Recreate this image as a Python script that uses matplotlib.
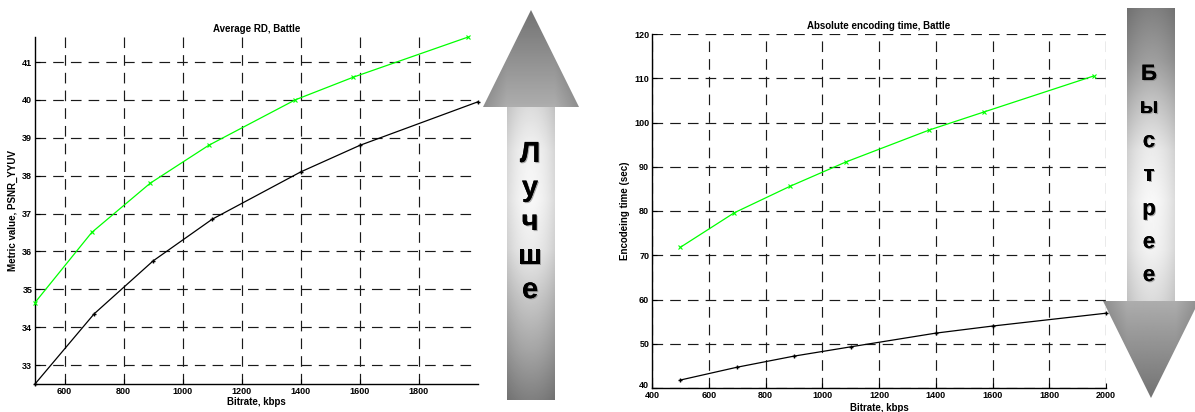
import numpy as np
import matplotlib
matplotlib.use('Agg')
import matplotlib.pyplot as plt
from matplotlib.patches import Polygon
import matplotlib.patheffects as pe
from matplotlib.transforms import ScaledTranslation

plt.rcParams['font.family'] = ['Liberation Sans', 'DejaVu Sans']
plt.rcParams['font.weight'] = 'bold'

# ---------------- data ----------------
rd_green_x = [500, 692, 890, 1088, 1381, 1578, 1967]
rd_green_y = [34.65, 36.5, 37.8, 38.8, 40.0, 40.6, 41.66]
rd_black_x = [500, 700, 900, 1100, 1400, 1600, 2000]
rd_black_y = [32.5, 34.35, 35.75, 36.85, 38.1, 38.8, 39.95]

time_green_x = [500, 690, 887, 1084, 1377, 1571, 1956]
time_green_y = [71.8, 79.6, 85.6, 91.1, 98.3, 102.4, 110.5]
time_black_x = [500, 700, 900, 1100, 1400, 1600, 2000]
time_black_y = [41.8, 44.7, 47.2, 49.3, 52.4, 54.0, 56.9]

rd_xticks = [600, 800, 1000, 1200, 1400, 1600, 1800]
rd_yticks = [33, 34, 35, 36, 37, 38, 39, 40, 41]
time_xticks = [400, 600, 800, 1000, 1200, 1400, 1600, 1800, 2000]
time_yticks = [40, 50, 60, 70, 80, 90, 100, 110, 120]

better_word = "Лучше"
faster_word = "Быстрее"

# ---------------- figure ----------------
W, H = 1195, 412
fig = plt.figure(figsize=(W / 100, H / 100), dpi=100)
fig.patch.set_facecolor('white')

# overlay axes in pixel coordinates for the gradient arrows
bg = fig.add_axes([0, 0, 1, 1], zorder=0)
bg.set_xlim(0, W)
bg.set_ylim(H, 0)
bg.axis('off')


def gradient_arrow(ax, poly, x0, x1, y0, y1, xc, head_range, head_vals,
                   shaft_ys, shaft_vals, shaft_half, head_half):
    xs = np.arange(x0, x1) + 0.5
    ys = np.arange(y0, y1) + 0.5
    X, Y = np.meshgrid(xs, ys)
    in_head = (Y >= head_range[0]) & (Y <= head_range[1])
    hv = np.interp(Y, head_range, head_vals)
    d = np.abs(X - xc) / head_half
    hf = 1 - 0.18 * np.clip((d - 0.5) / 0.5, 0, 1)
    sv = np.interp(Y, shaft_ys, shaft_vals)
    ds = np.clip(np.abs(X - xc) / shaft_half, 0, 1)
    sf = 1 - 0.12 * ds ** 2
    img = np.where(in_head, hv * hf, sv * sf)
    im = ax.imshow(img, extent=(x0, x1, y1, y0), cmap='gray', vmin=0, vmax=1,
                   interpolation='bilinear', origin='upper', zorder=1)
    patch = Polygon(poly, closed=True, facecolor='none', edgecolor='none')
    ax.add_patch(patch)
    im.set_clip_path(patch)


# up arrow (left)
up_poly = [(531, 10), (579, 107), (555, 107), (555, 400), (507, 400),
           (507, 107), (483, 107)]
gradient_arrow(bg, up_poly, 483, 580, 10, 400, 531,
               [10, 107], [0.45, 0.68],
               [107, 150, 200, 250, 300, 350, 400],
               [0.86, 0.95, 0.97, 0.92, 0.78, 0.65, 0.50], 24, 48)

# down arrow (right)
down_poly = [(1127, 8), (1175, 8), (1175, 301), (1199, 301), (1151, 398),
             (1103, 301), (1127, 301)]
gradient_arrow(bg, down_poly, 1103, 1200, 8, 398, 1151,
               [301, 398], [0.68, 0.45],
               [8, 60, 100, 150, 200, 250, 301],
               [0.50, 0.62, 0.76, 0.92, 0.97, 0.95, 0.86], 24, 48)

shadow = [pe.withSimplePatchShadow(offset=(0.8, -0.8), shadow_rgbFace='#777777',
                                   alpha=0.6), pe.Normal()]
for ch, yb in zip(better_word, [162, 196, 230, 264, 298]):
    bg.text(530, yb, ch, fontsize=21, fontweight='bold', ha='center',
            va='baseline', color='black', path_effects=shadow, zorder=3)
for ch, yb in zip(faster_word, [80, 113, 147, 181, 215, 248, 281]):
    bg.text(1149, yb, ch, fontsize=16, fontweight='bold', ha='center',
            va='baseline', color='black', path_effects=shadow, zorder=3)

# ---------------- charts ----------------
ax1 = fig.add_axes([35 / W, 1 - 384 / H, 443 / W, 347 / H], zorder=2)
ax2 = fig.add_axes([652 / W, 1 - 388 / H, 454 / W, 354 / H], zorder=2)

grid_style = dict(color='#1a1a1a', linestyle=(0, (9, 6)), linewidth=0.85)

for ax in (ax1, ax2):
    ax.set_facecolor('none')
    ax.spines['top'].set_visible(False)
    ax.spines['right'].set_visible(False)
    for s in ('left', 'bottom'):
        ax.spines[s].set_linewidth(1.0)
        ax.spines[s].set_color('black')
    ax.grid(True, **grid_style)
    ax.set_axisbelow(True)
    ax.tick_params(direction='in', length=3.5, width=0.8, labelsize=6.5,
                   pad=2, colors='black')

ax1.plot(rd_green_x, rd_green_y, color='#00ff00', lw=0.9, marker='x',
         ms=2.2, mew=0.8, clip_on=False, zorder=3)
ax1.plot(rd_black_x, rd_black_y, color='black', lw=0.9, marker='+',
         ms=3, mew=1.0, clip_on=False, zorder=3)
ax1.set_xlim(500, 2000)
ax1.set_ylim(32.5, 41.66)
ax1.set_xticks(rd_xticks)
ax1.set_yticks(rd_yticks)
ax1.set_title('Average RD, Battle', fontsize=7, fontweight='bold', pad=3.5)
ax1.set_xlabel('Bitrate, kbps', fontsize=7, fontweight='bold', labelpad=1)
ax1.set_ylabel('Metric value, PSNR_YYUV', fontsize=7, fontweight='bold',
               labelpad=3)

ax2.plot(time_green_x, time_green_y, color='#00ff00', lw=0.9, marker='x',
         ms=2.2, mew=0.8, clip_on=False, zorder=3)
ax2.plot(time_black_x, time_black_y, color='black', lw=0.9, marker='+',
         ms=3, mew=1.0, clip_on=False, zorder=3)
ax2.set_xlim(400, 2000)
ax2.set_ylim(40, 120)
ax2.set_xticks(time_xticks)
ax2.set_yticks(time_yticks)
ax2.set_title('Absolute encoding time, Battle', fontsize=7, fontweight='bold',
              pad=3.5)
ax2.set_xlabel('Bitrate, kbps', fontsize=7, fontweight='bold', labelpad=2)
ax2.set_ylabel('Encodeing time (sec)', fontsize=7, fontweight='bold',
               labelpad=3)

# lift the corner "40" label slightly so it does not collide with "400"
first_tick = ax2.yaxis.get_major_ticks()[0]
first_tick.label1.set_transform(
    first_tick.label1.get_transform()
    + ScaledTranslation(0, 3 / 100, fig.dpi_scale_trans))

fig.savefig('out.png', dpi=100, facecolor='white')
